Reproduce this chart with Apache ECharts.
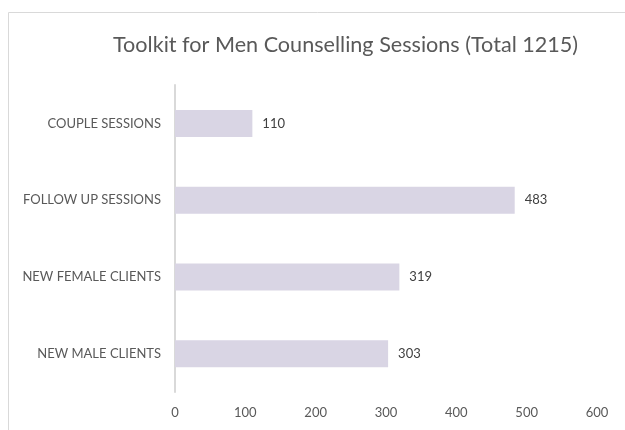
<!DOCTYPE html>
<html>
<head>
<meta charset="utf-8">
<script src="https://cdn.jsdelivr.net/npm/echarts@6/dist/echarts.min.js"></script>
<style>
  html, body { margin: 0; padding: 0; background: #fff; }
  #chart { width: 625px; height: 430px; }
</style>
</head>
<body>
<div id="chart"></div>
<script>
// categories bottom -> top
const categories = ["NEW MALE CLIENTS", "NEW FEMALE CLIENTS", "FOLLOW UP SESSIONS", "COUPLE SESSIONS"];
const sessions = [303, 319, 483, 110];
const xTicks = [0, 100, 200, 300, 400, 500, 600];

const fontFam = "Lato, 'Open Sans', sans-serif";
let myChart = echarts.init(document.getElementById("chart"));
let option = {
  animation: false,
  graphic: [
    {
      type: "rect",
      shape: { x: 8.5, y: 12.5, width: 800, height: 600 },
      style: { fill: "none", stroke: "#d9d9d9", lineWidth: 1 },
    },
  ],
  title: {
    text: "Toolkit for Men Counselling Sessions (Total 1215)",
    left: 113,
    top: 34,
    padding: 0,
    textStyle: {
      fontFamily: fontFam,
      fontWeight: "normal",
      fontSize: 21.6,
      color: "#595959",
    },
  },
  grid: {
    left: 175,
    right: 28,
    top: 85,
    bottom: 38,
  },
  xAxis: {
    type: "value",
    min: 0,
    max: 600,
    interval: 100,
    axisLine: { show: false },
    axisTick: { show: false },
    splitLine: { show: false },
    axisLabel: {
      margin: 14,
      color: "#595959",
      fontSize: 13,
      fontFamily: fontFam,
      formatter: (v) => (xTicks.includes(v) ? String(v) : ""),
    },
  },
  yAxis: {
    type: "category",
    data: categories,
    axisLine: { show: true, lineStyle: { color: "#d9d9d9", width: 2 } },
    axisTick: { show: false },
    axisLabel: {
      margin: 14,
      color: "#595959",
      fontSize: 13,
      fontFamily: fontFam,
    },
  },
  series: [
    {
      type: "bar",
      data: sessions,
      barWidth: 27,
      itemStyle: { color: "#d9d5e4" },
      label: {
        show: true,
        position: "right",
        distance: 10,
        color: "#404040",
        fontSize: 13,
        fontFamily: fontFam,
      },
    },
  ],
};
myChart.setOption(option);
</script>
</body>
</html>
